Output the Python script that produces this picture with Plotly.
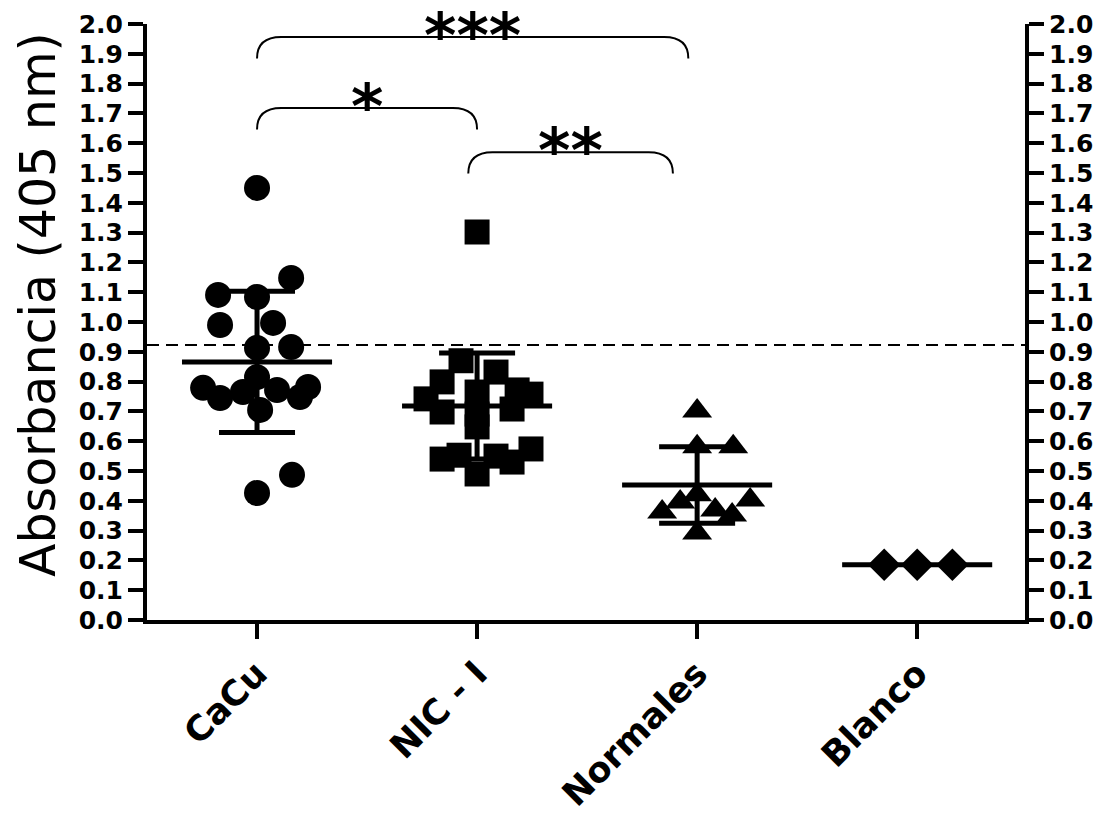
import plotly.graph_objects as go

# ---------------- data ----------------
categories = ["CaCu", "NIC - I", "Normales", "Blanco"]

cacu_values = [1.450, 1.148, 1.091, 1.084, 0.990, 0.997, 0.913, 0.916, 0.815,
               0.779, 0.782, 0.745, 0.748, 0.765, 0.772, 0.705, 0.487, 0.426]
cacu_jitter = [0.0, 0.155, -0.177, 0.0, -0.168, 0.073, 0.0, 0.155, 0.0,
               -0.245, 0.232, -0.168, 0.195, -0.064, 0.091, 0.014, 0.159, 0.0]

nic_values = [1.302, 0.870, 0.832, 0.765, 0.799, 0.742, 0.698, 0.758, 0.708,
              0.772, 0.648, 0.691, 0.540, 0.553, 0.490, 0.550, 0.530, 0.574]
nic_jitter = [0.0, -0.073, 0.086, 0.0, -0.159, -0.232, -0.159, 0.245, 0.159,
              0.182, 0.0, 0.0, -0.159, -0.082, 0.0, 0.086, 0.159, 0.245]

normales_values = [0.701, 0.581, 0.581, 0.396, 0.420, 0.403, 0.362, 0.369, 0.352, 0.292]
normales_jitter = [0.0, 0.0, 0.164, -0.077, 0.0, 0.241, -0.159, 0.082, 0.159, 0.0]

blanco_values = [0.185, 0.185, 0.185]
blanco_jitter = [-0.150, 0.0, 0.160]

group_means = [0.866, 0.718, 0.453, 0.185]
group_sd = [0.237, 0.178, 0.128, 0.0]

cutoff = 0.923

y_title = "Absorbancia (405 nm)"
y_tick_values = [0.0, 0.1, 0.2, 0.3, 0.4, 0.5, 0.6, 0.7, 0.8, 0.9, 1.0,
                 1.1, 1.2, 1.3, 1.4, 1.5, 1.6, 1.7, 1.8, 1.9, 2.0]
y_tick_labels = ["0.0", "0.1", "0.2", "0.3", "0.4", "0.5", "0.6", "0.7", "0.8", "0.9", "1.0",
                 "1.1", "1.2", "1.3", "1.4", "1.5", "1.6", "1.7", "1.8", "1.9", "2.0"]

# significance comparisons (category index from / to, bracket level, label)
comp_from = [0.0, 0.96, 0.0]
comp_to = [1.0, 1.89, 1.96]
comp_level = [1.718, 1.570, 1.956]
comp_labels = ["*", "**", "***"]

# ---------------- styles ----------------
X_RANGE = [-0.5, 3.49]
Y_RANGE = [0.0, 2.0]
MEAN_HALF = 0.341
BRACKET_DROP = 0.072
BRACKET_CORNER = 0.11
STAR_SIZE = 62
TICK_FONT = dict(family="DejaVu Sans", size=25, color="black", weight="bold")
CAT_FONT = dict(family="DejaVu Sans", size=35, color="black", weight="bold")

groups = [
    (cacu_values, cacu_jitter, "circle", 26),
    (nic_values, nic_jitter, "square", 25),
    (normales_values, normales_jitter, "triangle-up", 26),
    (blanco_values, blanco_jitter, "diamond", 25),
]

fig = go.Figure()

for i, (vals, jit, sym, size) in enumerate(groups):
    fig.add_trace(go.Scatter(
        x=[i + j for j in jit], y=vals, mode="markers",
        marker=dict(symbol=sym, size=size, color="black", line=dict(width=0)),
        showlegend=False, hoverinfo="y", cliponaxis=False))

for i, (m, sd) in enumerate(zip(group_means, group_sd)):
    fig.add_trace(go.Scatter(
        x=[i - MEAN_HALF, i + MEAN_HALF], y=[m, m], mode="lines",
        line=dict(color="black", width=5), showlegend=False, hoverinfo="skip"))
    if sd > 0:
        fig.add_trace(go.Scatter(
            x=[i], y=[m], mode="markers", marker=dict(size=1, color="black"),
            error_y=dict(type="data", array=[sd], visible=True, width=38,
                         thickness=5, color="black"),
            showlegend=False, hoverinfo="skip"))

# cutoff dashed line (on the right-hand axis so that it is drawn)
fig.add_trace(go.Scatter(
    x=X_RANGE, y=[cutoff, cutoff], mode="lines", yaxis="y2",
    line=dict(color="black", width=2, dash="12px,7px"),
    showlegend=False, hoverinfo="skip"))

# significance brackets
for a, b, lvl, lab in zip(comp_from, comp_to, comp_level, comp_labels):
    low = lvl - BRACKET_DROP
    path = (f"M {a},{low} Q {a},{lvl} {a + BRACKET_CORNER},{lvl} "
            f"L {b - BRACKET_CORNER},{lvl} Q {b},{lvl} {b},{low}")
    fig.add_shape(type="path", path=path, xref="x", yref="y",
                  line=dict(color="black", width=2))
    fig.add_annotation(x=(a + b) / 2, y=lvl, xref="x", yref="y", text=lab,
                       showarrow=False, yanchor="bottom", yshift=-37,
                       font=dict(family="DejaVu Sans", size=STAR_SIZE,
                                 color="black", weight="bold"))

# y-axis title
fig.add_annotation(x=0, y=0.5285, xref="paper", yref="paper", text=y_title,
                   textangle=-90, showarrow=False, xanchor="center",
                   yanchor="middle", xshift=-109,
                   font=dict(family="DejaVu Sans", size=49, color="black"))

axis_common = dict(range=Y_RANGE, tickmode="array", tickvals=y_tick_values,
                   ticktext=y_tick_labels, showline=True, linewidth=4,
                   linecolor="black", ticks="outside", ticklen=15, tickwidth=4,
                   tickcolor="black", tickfont=TICK_FONT, showgrid=False,
                   zeroline=False, fixedrange=True, automargin=False)

fig.update_layout(
    width=1107, height=821,
    margin=dict(l=147, r=82, t=24, b=201, autoexpand=False),
    plot_bgcolor="white", paper_bgcolor="white",
    xaxis=dict(range=X_RANGE, tickmode="array", tickvals=[0, 1, 2, 3],
               ticktext=categories, tickangle=-45, tickfont=CAT_FONT,
               showline=True, linewidth=4, linecolor="black", ticks="outside",
               ticklen=15, tickwidth=4, tickcolor="black", showgrid=False,
               zeroline=False, automargin=False),
    yaxis=dict(**axis_common),
    yaxis2=dict(**axis_common, overlaying="y", side="right"),
)

# remove the default page margin so the figure fills the window exactly
fig.write_html("out.html",
               config={"displayModeBar": False},
               post_script="document.body.style.margin='0';"
                           "document.body.style.overflow='hidden';")
